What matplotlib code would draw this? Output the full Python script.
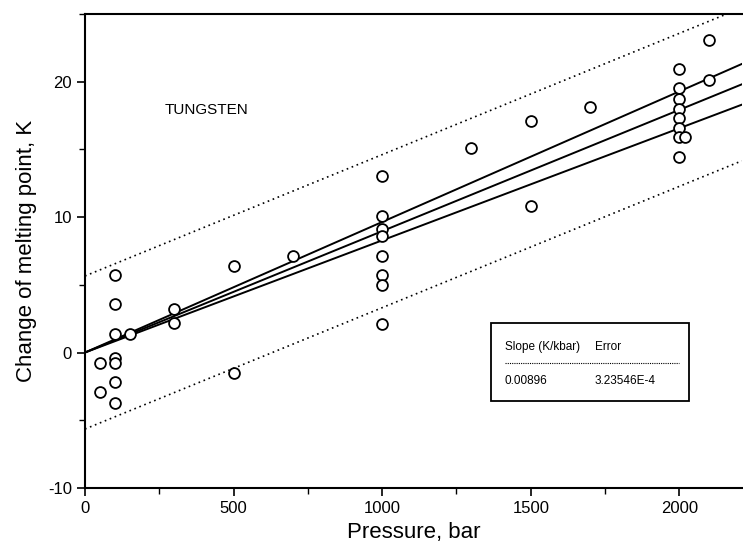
import numpy as np
import matplotlib.pyplot as plt
from matplotlib.ticker import MultipleLocator

plt.rcParams['font.family'] = ['Liberation Sans', 'DejaVu Sans']
plt.rcParams['axes.unicode_minus'] = False

# measured points: pressure (bar) and change of melting point (K)
pressure = [50, 50, 100, 100, 100, 100, 100, 100, 100, 150,
            300, 300, 500, 500, 700,
            1000, 1000, 1000, 1000, 1000, 1000, 1000, 1000,
            1300, 1500, 1500, 1700,
            2000, 2000, 2000, 2000, 2000, 2000, 2000, 2020, 2000,
            2100, 2100]
dtm = [-0.8, -2.9, 5.7, 3.6, 1.4, -0.4, -0.75, -2.2, -3.7, 1.4,
       3.2, 2.2, 6.4, -1.5, 7.1,
       13.0, 10.06, 9.1, 8.6, 7.16, 5.7, 5.0, 2.1,
       15.1, 17.07, 10.8, 18.1,
       20.9, 19.5, 18.7, 18.0, 17.3, 16.6, 15.9, 15.9, 14.4,
       23.1, 20.1]

# linear fit through the origin
slope = 0.00896          # K/bar
conf_half = 0.00068      # half-width of confidence band on slope
pred_half = 5.65         # half-width of prediction band, K
x_fit = [0, 2210]

fig = plt.figure(figsize=(7.43, 5.57), dpi=100)
ax = fig.add_axes([0.1144, 0.124, 0.884, 0.851])

x_fit = np.array(x_fit)
ax.plot(x_fit, slope * x_fit, color='black', lw=1.4)
ax.plot(x_fit, (slope + conf_half) * x_fit, color='black', lw=1.4)
ax.plot(x_fit, (slope - conf_half) * x_fit, color='black', lw=1.4)
ax.plot(x_fit, slope * x_fit + pred_half, color='black', lw=1.2, ls=(0, (1, 2.2)))
ax.plot(x_fit, slope * x_fit - pred_half, color='black', lw=1.2, ls=(0, (1, 2.2)))

ax.plot(pressure, dtm, 'o', mfc='white', mec='black', mew=1.3, ms=7.8, zorder=3)

ax.set_xlim(0, 2210)
ax.set_ylim(-10, 25)
ax.xaxis.set_major_locator(MultipleLocator(500))
ax.xaxis.set_minor_locator(MultipleLocator(250))
ax.yaxis.set_major_locator(MultipleLocator(10))
ax.yaxis.set_minor_locator(MultipleLocator(5))
ax.tick_params(which='major', direction='out', length=6, width=1.2, labelsize=12)
ax.tick_params(which='minor', direction='out', length=4, width=1.0)
ax.spines['right'].set_visible(False)
for s in ['left', 'bottom', 'top']:
    ax.spines[s].set_linewidth(1.5)

ax.set_xlabel('Pressure, bar', fontsize=16, labelpad=4)
ax.set_ylabel('Change of melting point, K', fontsize=16, labelpad=8)

ax.text(0.1216, 0.797, 'TUNGSTEN', transform=ax.transAxes, fontsize=11, va='center')

# results box
ax.add_patch(plt.Rectangle((0.6185, 0.1835), 0.3005, 0.165, transform=ax.transAxes,
                           fill=False, edgecolor='black', lw=1.3, zorder=4))
ax.text(0.639, 0.298, 'Slope (K/kbar)', transform=ax.transAxes, fontsize=8.5, va='center')
ax.text(0.776, 0.298, 'Error', transform=ax.transAxes, fontsize=8.5, va='center')
ax.plot([0.639, 0.905], [0.264, 0.264], transform=ax.transAxes, color='black', lw=0.8, ls=(0, (1, 1)))
ax.text(0.639, 0.226, '0.00896', transform=ax.transAxes, fontsize=8.5, va='center')
ax.text(0.776, 0.226, '3.23546E-4', transform=ax.transAxes, fontsize=8.5, va='center')

fig.savefig('out.png', dpi=100)
